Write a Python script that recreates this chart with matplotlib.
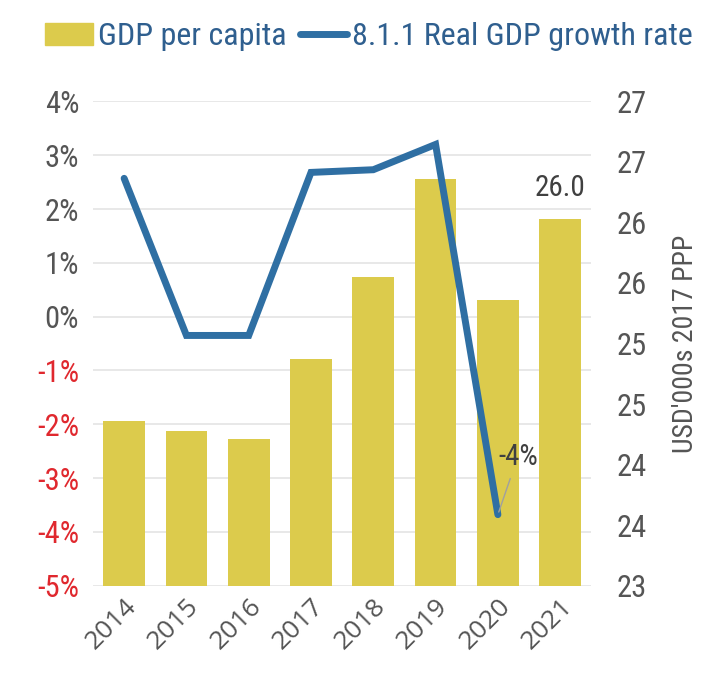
import matplotlib
matplotlib.use("Agg")
import matplotlib.pyplot as plt
from matplotlib.lines import Line2D
from matplotlib.patches import Patch
from matplotlib import font_manager

years = ["2014", "2015", "2016", "2017", "2018", "2019", "2020", "2021"]
gdp_per_capita = [24.36, 24.28, 24.21, 24.87, 25.55, 26.36, 25.36, 26.03]
growth_rate = [2.57, -0.35, -0.35, 2.68, 2.73, 3.2, -3.68, None]
left_ticks = [4, 3, 2, 1, 0, -1, -2, -3, -4, -5]
right_ticks = [23, 23.5, 24, 24.5, 25, 25.5, 26, 26.5, 27]
right_labels = ["23", "24", "24", "25", "25", "26", "26", "27", "27"]

names = {f.name for f in font_manager.fontManager.ttflist}
cond = "Roboto"
for cand in ["Roboto Condensed", "Liberation Sans Narrow", "Open Sans Condensed", "Roboto"]:
    if cand in names:
        cond = cand
        break

BAR = "#DCCB4C"
LINE = "#2F6FA3"
GRAY = "#555555"
RED = "#E0282E"

fig = plt.figure(figsize=(7.17, 6.85), dpi=100)
ax = fig.add_axes([0.1297, 0.145, 0.695, 0.707])
ax2 = ax.twinx()
ax.set_zorder(ax2.get_zorder() + 1)
ax.patch.set_visible(False)

x = list(range(len(years)))
ax2.bar(x, [v - 23 for v in gdp_per_capita], bottom=23, width=0.67, color=BAR, zorder=2)
ax2.set_ylim(23, 27)
ax2.set_yticks(right_ticks)
ax2.set_yticklabels(right_labels, fontfamily=cond, fontsize=22, color=GRAY)
ax2.tick_params(axis="y", length=0, pad=18)
ax2.set_ylabel("USD'000s 2017 PPP", fontfamily=cond, fontsize=20, color=GRAY, labelpad=18)

xs = [i for i, v in enumerate(growth_rate) if v is not None]
ys = [v for v in growth_rate if v is not None]
ax.plot(xs, ys, color=LINE, lw=5, solid_capstyle="round", solid_joinstyle="miter", zorder=3)
ax.set_ylim(-5, 4)
ax.set_yticks(left_ticks)
ax.set_yticklabels([f"{t}%" for t in left_ticks], fontfamily=cond, fontsize=22)
for lab, t in zip(ax.get_yticklabels(), left_ticks):
    lab.set_color(RED if t < 0 else GRAY)
ax.tick_params(axis="y", length=0, pad=10)
ax.set_xlim(-0.5, len(years) - 0.5)
ax.set_xticks(x)
ax.set_xticklabels(years, rotation=45, fontsize=19, color=GRAY, fontfamily="Open Sans")
ax.tick_params(axis="x", length=0, pad=6)
for lab in ax.get_xticklabels():
    lab.set_horizontalalignment("right")
    lab.set_rotation_mode("anchor")

for t in left_ticks:
    ax2.axhline(23 + (t + 5) * 4 / 9, color="#E4E4E4", lw=1.2, zorder=0)

for a in (ax, ax2):
    for s in a.spines.values():
        s.set_visible(False)

# annotations
ax.annotate("-4%", xy=(6, growth_rate[6]), xytext=(6.32, -2.6),
            fontsize=21, fontfamily=cond, color="#404040", ha="center", va="center",
            arrowprops=dict(arrowstyle="-", color="#A0A0A0", lw=1,
                            shrinkA=4, shrinkB=2))
ax2.text(7, gdp_per_capita[7] + 0.14, f"{gdp_per_capita[7]:.1f}", ha="center", va="bottom",
         fontsize=21, fontfamily=cond, color="#404040")

handles = [Patch(color=BAR), Line2D([0], [0], color=LINE, lw=5, solid_capstyle="round")]
leg = fig.legend(handles, ["GDP per capita", "8.1.1 Real GDP growth rate"],
                 loc="upper center", bbox_to_anchor=(0.515, 1.01), ncol=2, frameon=False,
                 prop={"family": cond, "size": 23}, handlelength=1.5, handletextpad=0.15,
                 columnspacing=0.4, handleheight=0.7)
for txt in leg.get_texts():
    txt.set_color("#2F5F8F")

fig.savefig("out.png", dpi=100, facecolor="white")
